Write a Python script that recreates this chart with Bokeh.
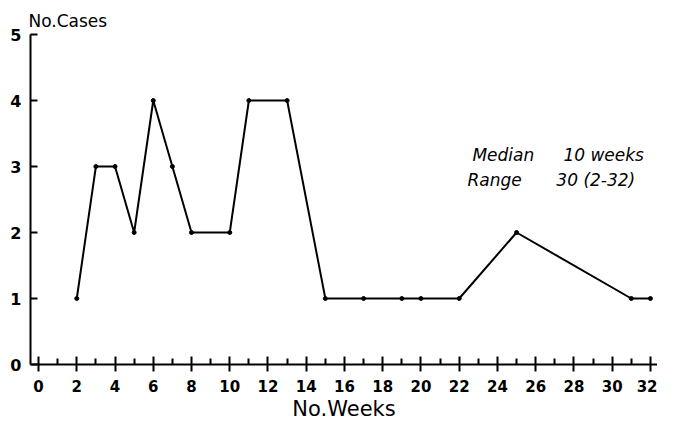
from bokeh.plotting import figure
from bokeh.models import Range1d, FixedTicker, Label
from bokeh.embed import file_html
from bokeh.resources import INLINE

weeks = [2, 3, 4, 5, 6, 7, 8, 10, 11, 13, 15, 17, 19, 20, 22, 25, 31, 32]
cases = [1, 3, 3, 2, 4, 3, 2, 2, 4, 4, 1, 1, 1, 1, 1, 2, 1, 1]
x_ticks = list(range(0, 33, 2))
x_minor = list(range(1, 32, 2))
y_ticks = [0, 1, 2, 3, 4, 5]
FONT = "DejaVu Sans"

p = figure(width=657, height=423, output_backend="svg", toolbar_location=None,
           x_range=Range1d(-0.42, 32.37), y_range=Range1d(0, 5),
           min_border_left=30, min_border_top=34, min_border_right=0, min_border_bottom=0)
p.outline_line_color = None
p.xgrid.grid_line_color = None
p.ygrid.grid_line_color = None

p.title.text = "No.Cases"
p.title.align = "left"
p.title.offset = -2
p.title.standoff = 8
p.title.text_font = FONT
p.title.text_font_size = "17px"
p.title.text_font_style = "normal"
p.title.text_color = "black"

p.line(weeks, cases, line_color="black", line_width=2)
p.scatter(weeks, cases, size=4, color="black")

xa = p.xaxis[0]
xa.ticker = FixedTicker(ticks=x_ticks, minor_ticks=x_minor)
xa.axis_line_width = 2
xa.major_tick_line_width = 2
xa.minor_tick_line_width = 2
xa.major_tick_in = 8
xa.major_tick_out = 7
xa.minor_tick_in = 6
xa.minor_tick_out = 0
xa.major_label_standoff = 8
xa.major_label_text_font = FONT
xa.major_label_text_font_size = "15px"
xa.major_label_text_font_style = "bold"
xa.major_label_text_color = "black"
xa.axis_label = "No.Weeks"
xa.axis_label_text_font = FONT
xa.axis_label_text_font_size = "21px"
xa.axis_label_text_font_style = "normal"
xa.axis_label_standoff = 2
xa.axis_label_text_color = "black"

ya = p.yaxis[0]
ya.ticker = FixedTicker(ticks=y_ticks, minor_ticks=[])
ya.axis_line_width = 2
ya.major_tick_line_width = 2
ya.major_tick_in = 7
ya.major_tick_out = 0
ya.minor_tick_in = 0
ya.minor_tick_out = 0
ya.major_label_standoff = 9
ya.major_label_text_font = FONT
ya.major_label_text_font_size = "16px"
ya.major_label_text_font_style = "bold"
ya.major_label_text_color = "black"

for tx, ty, tt in [(22.69, 3.17, "Median"), (27.45, 3.17, "10 weeks"),
                   (22.43, 2.80, "Range"), (27.08, 2.80, "30 (2-32)")]:
    p.add_layout(Label(x=tx, y=ty, text=tt, text_font=FONT, text_font_size="17px",
                       text_font_style="italic", text_baseline="middle",
                       text_align="left", text_color="black"))

open("out.html", "w").write(file_html(p, INLINE))
